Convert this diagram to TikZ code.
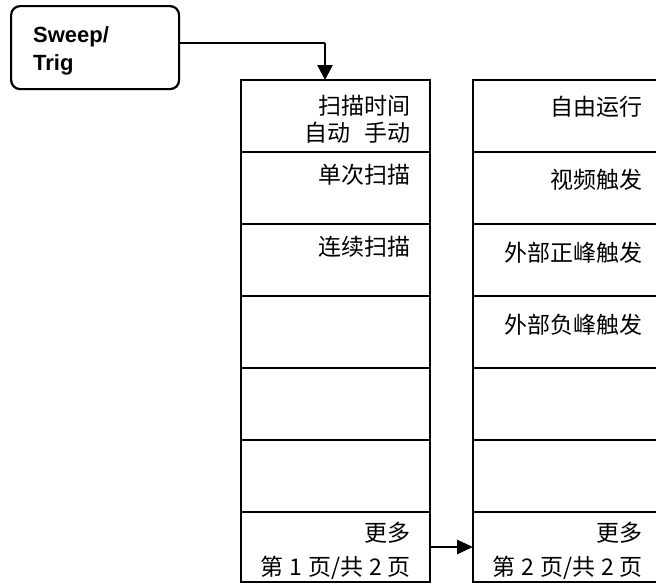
\documentclass[tikz,border=0pt]{standalone}
\usepackage{fontspec}
\newfontfamily\cjk{Noto Sans CJK SC}
\newfontfamily\lsans{Liberation Sans}
\usetikzlibrary{arrows.meta,calc}
\newcommand\gp{\hspace{6pt}}
\begin{document}
\begin{tikzpicture}[x=1pt,y=-1pt,
  cell/.style={draw, line width=1.5pt, rectangle, minimum width=189pt,
    minimum height=72pt, inner sep=0pt, outer sep=0pt, anchor=north west},
  lastcell/.style={cell, minimum height=70pt},
  lbl/.style={anchor=base east, inner sep=0pt, font=\cjk\fontsize{23}{27}\selectfont},
  keybox/.style={draw, line width=2.2pt, rounded corners=9pt, minimum width=168pt,
    minimum height=83pt, inner sep=0pt, anchor=north west},
  keylbl/.style={anchor=base west, inner sep=0pt, font=\lsans\bfseries\fontsize{22}{26}\selectfont},
  bigtip/.style={-{Triangle[length=15pt,width=15pt]}},
]
\useasboundingbox (0,0) rectangle (656,584);
\clip (0,0) rectangle (656,584);

% key
\node[keybox] (sw) at (10,5) {};
\node[keylbl] (swa) at (33,42) {Sweep/};
\node[keylbl] (swb) at (33,70) {Trig};

% columns
\foreach \i in {1,...,6} {
  \node[cell] (L\i) at (241,{80+72*(\i-1)}) {};
  \node[cell] (R\i) at (473,{80+72*(\i-1)}) {};
}
\node[lastcell] (L7) at (241,512) {};
\node[lastcell] (R7) at (473,512) {};

% left labels
\node[lbl] (l1a) at ($(L1.north east)+(-19,34.5)$) {扫描时间};
\node[lbl] (l1b) at ($(L1.north east)+(-19,61.5)$) {自动\hspace{14pt}手动};
\node[lbl] (l2) at ($(L2.north east)+(-19,31.5)$) {单次扫描};
\node[lbl] (l3) at ($(L3.north east)+(-19,31.5)$) {连续扫描};
\node[lbl] (l7a) at ($(L7.north east)+(-19,29.5)$) {更多};
\node[lbl] (l7b) at ($(L7.north east)+(-19,63.5)$) {第\gp 1\gp 页/共\gp 2\gp 页};

% right labels
\node[lbl] (r1) at ($(R1.north east)+(-19,35.5)$) {自由运行};
\node[lbl] (r2) at ($(R2.north east)+(-19,36.5)$) {视频触发};
\node[lbl] (r3) at ($(R3.north east)+(-19,37.5)$) {外部正峰触发};
\node[lbl] (r4) at ($(R4.north east)+(-19,37.5)$) {外部负峰触发};
\node[lbl] (r7a) at ($(R7.north east)+(-19,29.5)$) {更多};
\node[lbl] (r7b) at ($(R7.north east)+(-19,63.5)$) {第\gp 2\gp 页/共\gp 2\gp 页};

% connectors
\coordinate (turn) at (325,43);
\draw[line width=1.2pt] (sw.east |- turn) -- (turn);
\draw[line width=2.4pt, bigtip] (turn) -- (turn |- L1.north);
\draw[line width=2.6pt, -{Triangle[length=16pt,width=14pt]}] (L7.east) -- (R7.west);
\end{tikzpicture}
\end{document}
